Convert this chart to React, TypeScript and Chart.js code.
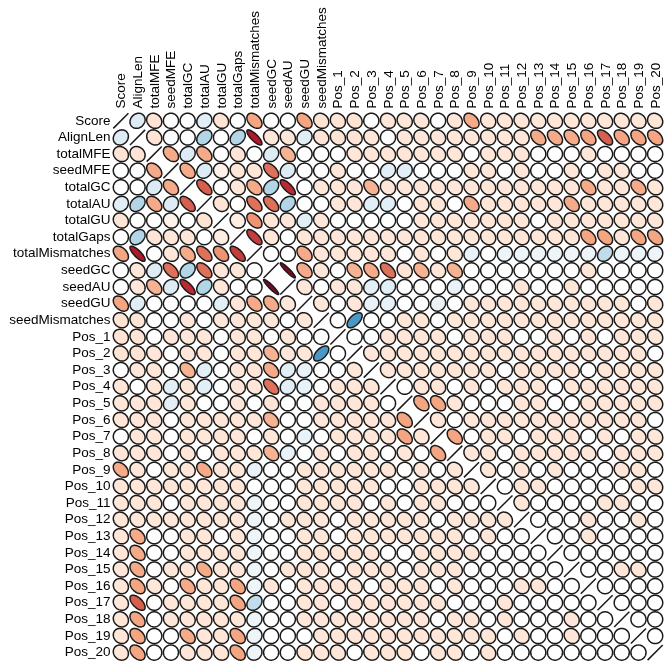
import React, { useEffect, useRef } from 'react';
import { Chart, registerables } from 'chart.js';

Chart.register(...registerables);

const variables = [
  'Score', 'AlignLen', 'totalMFE', 'seedMFE', 'totalGC', 'totalAU', 'totalGU', 'totalGaps',
  'totalMismatches', 'seedGC', 'seedAU', 'seedGU', 'seedMismatches',
  'Pos_1', 'Pos_2', 'Pos_3', 'Pos_4', 'Pos_5', 'Pos_6', 'Pos_7', 'Pos_8', 'Pos_9', 'Pos_10',
  'Pos_11', 'Pos_12', 'Pos_13', 'Pos_14', 'Pos_15', 'Pos_16', 'Pos_17', 'Pos_18', 'Pos_19', 'Pos_20',
];

// Lower-triangle correlations: row i holds r(i, j) for j < i
const rowScore: number[] = [];
const rowAlignLen = [0.15];
const rowTotalMFE = [-0.15, -0.15];
const rowSeedMFE = [0, 0.02, -0.38];
const rowTotalGC = [0, 0, 0.15, -0.38];
const rowTotalAU = [0.13, 0.3, -0.38, 0.15, -0.6];
const rowTotalGU = [-0.15, 0, 0, -0.08, 0, -0.15];
const rowTotalGaps = [0, 0.3, -0.15, -0.14, -0.14, 0, -0.1];
const rowTotalMismatches = [-0.4, -0.8, 0, -0.14, -0.38, -0.55, -0.45, -0.7];
const rowSeedGC = [0, -0.14, 0.15, -0.55, 0.3, -0.55, -0.14, -0.14, 0];
const rowSeedAU = [0, -0.14, -0.35, 0.15, -0.75, 0.3, -0.14, 0, 0, -0.93];
const rowSeedGU = [-0.4, 0.13, 0, 0, 0, 0, 0.13, -0.14, -0.38, -0.38, -0.14];
const rowSeedMismatches = [-0.15, -0.15, 0, 0, -0.14, 0, -0.14, -0.14, -0.14, -0.14, 0, -0.14];
const rowPos1 = [-0.15, -0.15, 0, -0.14, -0.14, -0.14, 0, -0.14, -0.14, 0, -0.14, 0, 0];
const rowPos2 = [-0.15, -0.15, -0.14, 0, -0.14, -0.14, 0, -0.14, -0.14, -0.35, -0.14, -0.14, 0.58, 0];
const rowPos3 = [0, -0.14, -0.14, 0, -0.35, 0.12, 0, -0.14, -0.14, -0.38, 0.12, 0.1, 0, 0, -0.14];
const rowPos4 = [-0.14, 0, -0.14, 0.12, -0.14, 0.12, 0, -0.14, -0.14, -0.55, 0.12, 0.1, 0, -0.14, -0.14, -0.14];
const rowPos5 = [-0.14, -0.14, -0.14, 0.12, -0.14, 0, 0, -0.14, 0, -0.15, 0, 0, -0.14, -0.14, -0.14, -0.14, 0];
const rowPos6 = [-0.14, -0.14, -0.14, 0, -0.14, -0.14, -0.14, -0.14, -0.14, -0.35, 0, 0, -0.14, -0.14, -0.14, -0.14, -0.14, -0.4];
const rowPos7 = [0, -0.14, -0.14, 0, -0.14, -0.14, -0.14, -0.14, 0, -0.14, 0, 0.1, 0, -0.14, -0.14, -0.14, -0.14, -0.4, -0.14];
const rowPos8 = [-0.14, -0.14, -0.14, 0, -0.14, 0, -0.14, -0.14, -0.14, -0.35, 0.1, 0, -0.14, 0, -0.14, -0.14, 0, -0.14, 0, -0.4];
const rowPos9 = [-0.38, -0.14, 0, -0.14, -0.14, -0.38, -0.14, -0.14, 0.1, 0, 0, -0.14, -0.14, -0.14, -0.14, -0.14, -0.14, 0, -0.14, 0, -0.14];
const rowPos10 = [-0.14, -0.14, -0.14, -0.14, -0.14, -0.14, -0.14, -0.14, 0, 0, 0,
  -0.14, -0.14, -0.14, -0.14, -0.14, 0, 0, -0.14, -0.14, -0.14,
  -0.14];
const rowPos11 = [-0.14, -0.14, -0.14, 0, -0.14, -0.14, -0.14, -0.14, 0.08, 0, 0,
  -0.14, -0.14, -0.14, -0.14, 0, -0.14, 0, -0.14, -0.14, 0,
  0, 0];
const rowPos12 = [-0.14, -0.14, -0.14, -0.14, -0.14, -0.14, -0.14, -0.14, 0.08, 0, -0.14,
  -0.14, -0.14, 0, -0.14, -0.14, -0.14, -0.14, -0.14, 0, -0.14,
  -0.14, -0.14, -0.14];
const rowPos13 = [-0.14, -0.38, 0, 0, -0.14, -0.14, 0, -0.14, 0.08, 0, 0,
  -0.14, -0.14, 0, -0.14, -0.14, -0.14, -0.14, -0.14, -0.14, -0.14,
  0, -0.14, 0, 0];
const rowPos14 = [-0.14, -0.38, 0, 0, -0.14, -0.14, -0.14, -0.14, 0.08, 0, 0,
  -0.14, -0.14, -0.14, -0.14, -0.14, 0, 0, -0.14, -0.14, -0.14,
  -0.14, 0, 0, 0, 0];
const rowPos15 = [-0.14, -0.38, 0, -0.14, -0.14, -0.38, -0.14, -0.14, 0.08, 0, -0.14,
  -0.14, -0.14, 0, -0.14, -0.14, -0.14, 0, -0.14, -0.14, -0.14,
  0, 0, 0, 0, 0, 0];
const rowPos16 = [-0.14, -0.4, -0.14, 0, -0.38, -0.14, -0.14, -0.4, 0.08, -0.14, 0,
  -0.14, -0.14, -0.14, -0.14, 0, -0.14, -0.14, -0.14, 0, -0.14,
  0, 0, 0, -0.14, -0.14, 0, 0];
const rowPos17 = [-0.14, -0.6, 0, -0.14, -0.14, -0.14, -0.14, -0.4, 0.25, 0, 0,
  -0.14, -0.14, 0, -0.14, -0.14, -0.14, -0.14, -0.14, -0.14, 0,
  0, 0, -0.14, 0, 0, 0, 0, 0];
const rowPos18 = [-0.14, -0.4, 0, -0.14, -0.14, -0.14, -0.14, -0.14, 0.08, 0, 0,
  -0.14, -0.14, -0.14, -0.14, -0.14, -0.14, -0.14, -0.14, 0, -0.14,
  -0.14, 0, -0.14, 0, 0, 0, -0.14, 0, 0];
const rowPos19 = [-0.14, -0.4, 0, 0, -0.38, -0.14, -0.14, -0.4, 0.08, 0, 0,
  0, -0.14, -0.14, -0.14, -0.14, -0.14, -0.14, -0.14, -0.14, -0.14,
  -0.14, -0.14, 0, -0.14, 0, 0, -0.14, 0, 0, 0];
const rowPos20 = [-0.14, -0.4, 0, 0, -0.14, -0.14, -0.14, -0.4, 0.08, 0, 0,
  -0.14, -0.14, -0.14, 0, -0.14, -0.14, -0.14, 0, -0.14, -0.14,
  0, -0.14, 0, 0, 0, 0, 0, 0, 0, 0, 0];

const lowerRows = [
  rowScore, rowAlignLen, rowTotalMFE, rowSeedMFE, rowTotalGC, rowTotalAU, rowTotalGU, rowTotalGaps,
  rowTotalMismatches, rowSeedGC, rowSeedAU, rowSeedGU, rowSeedMismatches,
  rowPos1, rowPos2, rowPos3, rowPos4, rowPos5, rowPos6, rowPos7, rowPos8, rowPos9, rowPos10,
  rowPos11, rowPos12, rowPos13, rowPos14, rowPos15, rowPos16, rowPos17, rowPos18, rowPos19, rowPos20,
];

const paletteStops = ['#67001F', '#B2182B', '#D6604D', '#F4A582', '#FDDBC7', '#FFFFFF',
  '#D1E5F0', '#92C5DE', '#4393C3', '#2166AC', '#053061'];

function hexToRgb(h: string) {
  return [parseInt(h.slice(1, 3), 16), parseInt(h.slice(3, 5), 16), parseInt(h.slice(5, 7), 16)];
}

function colorFor(r: number) {
  const t = Math.max(0, Math.min(1, (r + 1) / 2)) * (paletteStops.length - 1);
  const i = Math.min(paletteStops.length - 2, Math.floor(t));
  const f = t - i;
  const a = hexToRgb(paletteStops[i]);
  const b = hexToRgb(paletteStops[i + 1]);
  const c = a.map((v, k) => Math.round(v + (b[k] - v) * f));
  return `rgb(${c[0]},${c[1]},${c[2]})`;
}

function corr(i: number, j: number) {
  if (i === j) return 1;
  return i > j ? lowerRows[i][j] : lowerRows[j][i];
}

const ellipsePlugin = {
  id: 'corrEllipses',
  afterDatasetsDraw(chart: any) {
    const ctx = chart.ctx;
    const xs = chart.scales.x;
    const ys = chart.scales.y;
    const cw = Math.abs(xs.getPixelForValue(1) - xs.getPixelForValue(0));
    const ch = Math.abs(ys.getPixelForValue(1) - ys.getPixelForValue(0));
    const R = 0.455 * Math.min(cw, ch);
    ctx.save();
    ctx.lineWidth = 1.5;
    ctx.strokeStyle = '#1a1a1a';
    for (const d of chart.data.datasets[0].data) {
      const cx = xs.getPixelForValue(d.x);
      const cy = ys.getPixelForValue(d.y);
      const r = d.v;
      ctx.beginPath();
      if (r >= 0.999) {
        ctx.moveTo(cx - R, cy + R);
        ctx.lineTo(cx + R, cy - R);
        ctx.stroke();
        continue;
      }
      const a = Math.acos(r);
      const n = 60;
      for (let k = 0; k <= n; k++) {
        const t = (k / n) * Math.PI * 2;
        const px = cx + R * Math.cos(t + a / 2);
        const py = cy - R * Math.cos(t - a / 2);
        if (k === 0) ctx.moveTo(px, py); else ctx.lineTo(px, py);
      }
      ctx.closePath();
      ctx.fillStyle = colorFor(r);
      ctx.fill();
      ctx.stroke();
    }
    ctx.restore();
  },
};

export default function App() {
  const canvasRef = useRef<HTMLCanvasElement | null>(null);

  useEffect(() => {
    if (!canvasRef.current) return;
    const points: { x: number; y: number; v: number }[] = [];
    for (let i = 0; i < variables.length; i++) {
      for (let j = 0; j < variables.length; j++) {
        points.push({ x: j, y: i, v: corr(i, j) });
      }
    }
    const tickFont = { family: '"Liberation Sans", Arial, Helvetica, sans-serif', size: 13.5 };
    const integerTicks = (scale: any) => {
      scale.ticks = variables.map((_, i) => ({ value: i }));
    };
    const chart = new Chart(canvasRef.current, {
      type: 'scatter',
      data: {
        datasets: [{ data: points as any, pointRadius: 0, pointHoverRadius: 0 }],
      },
      options: {
        animation: false,
        responsive: true,
        maintainAspectRatio: false,
        layout: { padding: { left: 0, right: 6.5, top: 0, bottom: 3.5 } },
        plugins: { legend: { display: false }, tooltip: { enabled: false } },
        events: [],
        scales: {
          x: {
            type: 'linear',
            position: 'top',
            min: -0.5,
            max: variables.length - 0.5,
            afterBuildTicks: integerTicks,
            afterFit: (scale: any) => { scale.height = 112.5; scale.paddingLeft = 0; scale.paddingRight = 0; },
            grid: { display: false, drawTicks: false },
            border: { display: false },
            ticks: {
              autoSkip: false,
              minRotation: 90,
              maxRotation: 90,
              padding: 4,
              labelOffset: 17,
              color: '#000',
              font: tickFont,
              callback: (v: any) => variables[v as number] ?? '',
            },
          },
          y: {
            type: 'linear',
            reverse: true,
            min: -0.5,
            max: variables.length - 0.5,
            afterBuildTicks: integerTicks,
            afterFit: (scale: any) => { scale.width = 112.5; },
            grid: { display: false, drawTicks: false },
            border: { display: false },
            ticks: {
              autoSkip: false,
              padding: 2,
              color: '#000',
              font: tickFont,
              callback: (v: any) => variables[v as number] ?? '',
            },
          },
        },
      },
      plugins: [ellipsePlugin],
    });
    return () => chart.destroy();
  }, []);

  return (
    <div style={{ position: 'fixed', left: 0, top: 0, width: 670, height: 671, background: '#fff' }}>
      <canvas ref={canvasRef} />
    </div>
  );
}
